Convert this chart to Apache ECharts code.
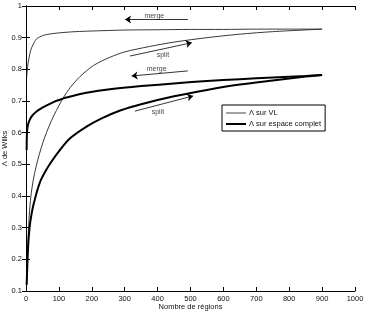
<!DOCTYPE html>
<html>
<head>
<meta charset="utf-8">
<script src="https://cdn.jsdelivr.net/npm/echarts@6/dist/echarts.min.js"></script>
<style>
html,body{margin:0;padding:0;background:#fff;}
#chart{width:366px;height:315px;}
</style>
</head>
<body>
<div id="chart"></div>
<script>
// ---- data ----
var vlMergeX = [2, 5, 9, 13, 17, 25, 32, 45, 63, 100, 150, 200, 300, 400, 500, 600, 700, 800, 900];
var vlMergeY = [0.775, 0.81, 0.835, 0.855, 0.868, 0.885, 0.896, 0.904, 0.91, 0.915, 0.919, 0.921, 0.924, 0.925, 0.926, 0.926, 0.927, 0.927, 0.927];

var vlSplitX = [2, 4, 7, 10, 15, 22, 30, 40, 55, 70, 85, 100, 115, 134, 164, 205, 255, 300, 375, 450, 550, 650, 750, 900];
var vlSplitY = [0.12, 0.2, 0.28, 0.34, 0.4, 0.45, 0.49, 0.53, 0.58, 0.62, 0.655, 0.685, 0.713, 0.742, 0.777, 0.812, 0.838, 0.855, 0.872, 0.886, 0.9, 0.911, 0.919, 0.927];

var fullMergeX = [2, 3, 6, 12, 20, 32, 45, 63, 85, 103, 120, 150, 184, 255, 350, 458, 550, 650, 750, 850, 900];
var fullMergeY = [0.545, 0.6, 0.625, 0.642, 0.655, 0.667, 0.676, 0.686, 0.697, 0.704, 0.71, 0.718, 0.726, 0.737, 0.747, 0.756, 0.763, 0.769, 0.774, 0.779, 0.782];

var fullSplitX = [2, 4, 7, 12, 20, 27, 35, 45, 60, 75, 100, 134, 184, 230, 286, 350, 450, 550, 650, 750, 850, 900];
var fullSplitY = [0.12, 0.18, 0.25, 0.31, 0.36, 0.39, 0.42, 0.45, 0.48, 0.505, 0.541, 0.582, 0.619, 0.645, 0.67, 0.69, 0.715, 0.735, 0.752, 0.765, 0.777, 0.782];

var seriesNames = ['\u039b sur VL', '\u039b sur espace complet'];
var xTicks = {min: 0, max: 1000, interval: 100};
var yTicks = {min: 0.1, max: 1, interval: 0.1};

// annotation arrows in data coordinates: [x1, y1, x2, y2] (arrow at second point)
var arrows = [
  [492, 0.957, 301, 0.957],
  [316, 0.842, 504, 0.884],
  [492, 0.795, 321, 0.779],
  [331, 0.668, 508, 0.716]
];
var annoText = ['merge', 'split', 'merge', 'split'];
var annoX = [390, 416, 397, 401];
var annoY = [0.967, 0.846, 0.802, 0.664];

function pairs(xs, ys) { return xs.map(function (x, i) { return [x, ys[i]]; }); }

var FONT = 'Liberation Sans, Arial, Helvetica, sans-serif';
var chart = echarts.init(document.getElementById('chart'), null, {renderer: 'canvas'});

var axisLineStyle = {show: true, lineStyle: {color: '#000', width: 1}};
var tickStyle = {show: true, inside: true, length: 4, lineStyle: {color: '#000', width: 1}};

var option = {
  backgroundColor: '#fff',
  animation: false,
  textStyle: {fontFamily: FONT},
  grid: {left: 26, top: 6, right: 11, bottom: 24, containLabel: false, outerBoundsMode: 'none'},
  legend: {
    data: [
      {name: seriesNames[0], icon: 'path://M0,0H20V0.9H0Z', itemStyle: {color: '#333'}},
      {name: seriesNames[1], icon: 'path://M0,0H20V2H0Z', itemStyle: {color: '#000'}}
    ],
    orient: 'vertical',
    left: 222, top: 105,
    itemWidth: 20, itemHeight: 8, itemGap: 3,
    padding: [4, 4, 3, 4],
    borderColor: '#000', borderWidth: 1, borderRadius: 0,
    backgroundColor: '#fff',
    textStyle: {fontSize: 7.5, color: '#111', fontFamily: FONT, padding: [0, 0, 0, -2]},
    selectedMode: false
  },
  xAxis: [{
    type: 'value', min: xTicks.min, max: xTicks.max, interval: xTicks.interval,
    name: 'Nombre de r\u00e9gions', nameLocation: 'middle', nameGap: 12, nameMoveOverlap: false,
    nameTextStyle: {fontSize: 7.5, color: '#111', fontFamily: FONT},
    axisLine: axisLineStyle, axisTick: tickStyle,
    axisLabel: {fontSize: 7.5, color: '#111', margin: 4, fontFamily: FONT,
      formatter: function (v) { return String(Math.round(v)); }},
    splitLine: {show: false}
  }, {
    type: 'value', position: 'top', min: xTicks.min, max: xTicks.max, interval: xTicks.interval,
    axisLine: axisLineStyle, axisTick: tickStyle, axisLabel: {show: false}, splitLine: {show: false}
  }],
  yAxis: [{
    type: 'value', min: yTicks.min, max: yTicks.max, interval: yTicks.interval,
    name: '\u039b de Wilks', nameLocation: 'middle', nameGap: 17, nameRotate: 90, nameMoveOverlap: false,
    nameTextStyle: {fontSize: 7.5, color: '#111', fontFamily: FONT},
    axisLine: axisLineStyle, axisTick: tickStyle,
    axisLabel: {fontSize: 7.5, color: '#111', margin: 4, fontFamily: FONT,
      formatter: function (v) { return String(+v.toFixed(1)); }},
    splitLine: {show: false}
  }, {
    type: 'value', position: 'right', min: yTicks.min, max: yTicks.max, interval: yTicks.interval,
    axisLine: axisLineStyle, axisTick: tickStyle, axisLabel: {show: false}, splitLine: {show: false}
  }],
  series: [
    {name: seriesNames[0], type: 'line', data: pairs(vlMergeX, vlMergeY), showSymbol: false, symbol: 'none', smooth: 0.3,
     lineStyle: {color: '#222', width: 0.9}, itemStyle: {color: '#222'}},
    {name: seriesNames[0], type: 'line', data: pairs(vlSplitX, vlSplitY), showSymbol: false, symbol: 'none', smooth: 0.3,
     lineStyle: {color: '#222', width: 0.9}, itemStyle: {color: '#222'}},
    {name: seriesNames[1], type: 'line', data: pairs(fullMergeX, fullMergeY), showSymbol: false, symbol: 'none', smooth: 0.3,
     lineStyle: {color: '#000', width: 2}, itemStyle: {color: '#000'}},
    {name: seriesNames[1], type: 'line', data: pairs(fullSplitX, fullSplitY), showSymbol: false, symbol: 'none', smooth: 0.3,
     lineStyle: {color: '#000', width: 2}, itemStyle: {color: '#000'}},
    {
      name: 'annotations', type: 'scatter', symbolSize: 0, silent: true,
      data: annoText.map(function (t, i) { return {name: t, value: [annoX[i], annoY[i]]}; }),
      label: {show: true, position: 'inside', formatter: '{b}', fontSize: 7, color: '#111', fontFamily: FONT},
      markLine: {
        silent: true, animation: false,
        symbol: ['none', 'arrow'], symbolSize: 6,
        label: {show: false},
        lineStyle: {color: '#000', width: 0.8, type: 'solid'},
        data: arrows.map(function (a) { return [{coord: [a[0], a[1]]}, {coord: [a[2], a[3]]}]; })
      }
    }
  ]
};
chart.setOption(option);
</script>
</body>
</html>
